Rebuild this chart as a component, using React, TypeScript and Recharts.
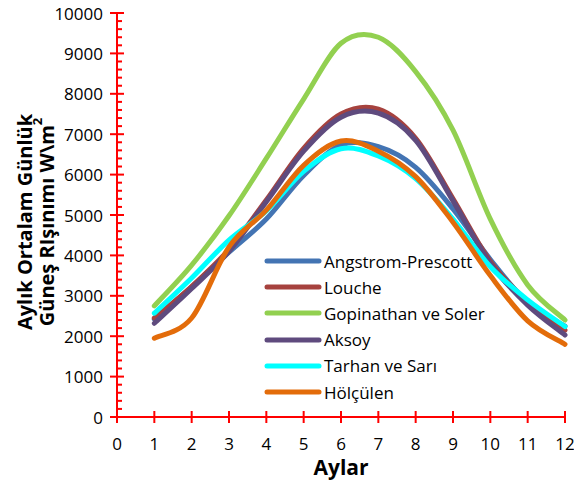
import React from 'react';
import { Legend, Line, LineChart, XAxis, YAxis } from 'recharts';

const MONTHS = [1, 2, 3, 4, 5, 6, 7, 8, 9, 10, 11, 12];
const X_TICKS = [0, 1, 2, 3, 4, 5, 6, 7, 8, 9, 10, 11, 12];
// minor ticks every 200 between the labelled ones
const Y_TICKS = Array.from({ length: 51 }, (_, i) => i * 200);

const ANGSTROM = [2420, 3220, 4080, 4900, 5980, 6730, 6690, 6180, 5150, 3900, 2830, 2250];
const LOUCHE = [2450, 3230, 4150, 5370, 6650, 7500, 7620, 6900, 5400, 3850, 2850, 2150];
const GOPINATHAN = [2750, 3760, 4980, 6400, 7870, 9250, 9400, 8550, 7100, 4900, 3270, 2400];
const AKSOY = [2320, 3180, 4100, 5330, 6580, 7420, 7520, 6850, 5350, 3800, 2770, 2030];
const TARHAN = [2570, 3440, 4380, 5100, 6080, 6640, 6460, 5900, 4900, 3720, 2900, 2240];
const HOLCULEN = [1950, 2450, 4210, 5120, 6230, 6830, 6580, 5950, 4820, 3500, 2380, 1800];

const SERIES = [
  { key: 'angstrom', name: 'Angstrom-Prescott', color: '#4374B3', values: ANGSTROM },
  { key: 'louche', name: 'Louche', color: '#A6423E', values: LOUCHE },
  { key: 'gopinathan', name: 'Gopinathan ve Soler', color: '#92D050', values: GOPINATHAN },
  { key: 'aksoy', name: 'Aksoy', color: '#5F4B7E', values: AKSOY },
  { key: 'tarhan', name: 'Tarhan ve Sarı', color: '#00FFFF', values: TARHAN },
  { key: 'holculen', name: 'Hölçülen', color: '#E36C0A', values: HOLCULEN },
];

const data = MONTHS.map((month, i) => {
  const row: Record<string, number> = { month };
  SERIES.forEach((s) => {
    row[s.key] = s.values[i];
  });
  return row;
});

const RED = '#FF0000';
const FONT = '"Open Sans", sans-serif';

// Excel-style smoothing: Catmull-Rom through the points
const smoothCurve = (context: any) => {
  let pts: [number, number][] = [];
  return {
    areaStart() {},
    areaEnd() {},
    lineStart() {
      pts = [];
    },
    point(x: number, y: number) {
      pts.push([+x, +y]);
    },
    lineEnd() {
      if (pts.length === 0) return;
      context.moveTo(pts[0][0], pts[0][1]);
      for (let i = 0; i < pts.length - 1; i++) {
        const p0 = pts[i - 1] ?? pts[i];
        const p1 = pts[i];
        const p2 = pts[i + 1];
        const p3 = pts[i + 2] ?? p2;
        context.bezierCurveTo(
          p1[0] + (p2[0] - p0[0]) / 6,
          p1[1] + (p2[1] - p0[1]) / 6,
          p2[0] - (p3[0] - p1[0]) / 6,
          p2[1] - (p3[1] - p1[1]) / 6,
          p2[0],
          p2[1],
        );
      }
    },
  };
};

const YTick = (props: any) => {
  const { x, y, payload } = props;
  const major = payload.value % 1000 === 0;
  return (
    <g>
      <line x1={major ? x - 7 : x} x2={major ? x + 7 : x + 5} y1={y} y2={y} stroke={RED} strokeWidth={2} />
      {major && (
        <text x={x - 14} y={y} textAnchor="end" dominantBaseline="central" fontSize={17} fontFamily={FONT} fill="#000">
          {payload.value}
        </text>
      )}
    </g>
  );
};

const XTick = (props: any) => {
  const { x, y, payload } = props;
  return (
    <g>
      <line x1={x} x2={x} y1={y - 6} y2={y + 6} stroke={RED} strokeWidth={2} />
      <text x={x} y={y + 26} textAnchor="middle" dominantBaseline="central" fontSize={17} fontFamily={FONT} fill="#000">
        {payload.value}
      </text>
    </g>
  );
};

const YTitle = () => (
  <g fontFamily={FONT} fontWeight="bold" fontSize={20} fill="#000">
    <text x={24} y={222} transform="rotate(-90 24 222)" textAnchor="middle" dominantBaseline="central">
      Aylık Ortalam Günlük
    </text>
    <text x={46} y={222} transform="rotate(-90 46 222)" textAnchor="middle" dominantBaseline="central">
      Güneş RIşınımı W\m
      <tspan baselineShift="super" fontSize={13}>2</tspan>
    </text>
  </g>
);

const LegendBox = () => (
  <div style={{ fontFamily: FONT, fontSize: 17, color: '#000' }}>
    {SERIES.map((s) => (
      <div key={s.key} style={{ display: 'flex', alignItems: 'center', height: 26.2 }}>
        <svg width={58} height={10} style={{ marginRight: 2 }}>
          <line x1={3} x2={55} y1={5} y2={5} stroke={s.color} strokeWidth={5} strokeLinecap="round" />
        </svg>
        <span>{s.name}</span>
      </div>
    ))}
  </div>
);

export default function App() {
  return (
    <div style={{ position: 'fixed', left: 0, top: 0, width: 574, height: 489, background: '#fff' }}>
      <LineChart width={574} height={489} data={data} margin={{ top: 13, right: 9, left: 57, bottom: 12 }}>
        <XAxis
          type="number"
          dataKey="month"
          domain={[0, 12]}
          ticks={X_TICKS}
          interval={0}
          tick={<XTick />}
          tickLine={false}
          tickSize={0}
          tickMargin={0}
          height={60}
          axisLine={{ stroke: RED, strokeWidth: 2 }}
          label={{
            content: () => (
              <text x={341} y={467} textAnchor="middle" dominantBaseline="central" fontFamily={FONT} fontWeight="bold" fontSize={21} fill="#000">
                Aylar
              </text>
            ),
          }}
        />
        <YAxis
          type="number"
          domain={[0, 10000]}
          ticks={Y_TICKS}
          interval={0}
          tick={<YTick />}
          tickLine={false}
          tickSize={0}
          tickMargin={0}
          width={60}
          axisLine={{ stroke: RED, strokeWidth: 2 }}
          label={{ content: () => <YTitle /> }}
        />
        <Legend
          layout="vertical"
          align="center"
          verticalAlign="middle"
          content={() => <LegendBox />}
          wrapperStyle={{ position: 'absolute', left: 264, top: 248, width: 280 }}
        />
        {SERIES.map((s) => (
          <Line
            key={s.key}
            dataKey={s.key}
            name={s.name}
            type={smoothCurve as any}
            stroke={s.color}
            strokeWidth={5}
            strokeLinecap="round"
            dot={false}
            activeDot={false}
            isAnimationActive={false}
          />
        ))}
      </LineChart>
    </div>
  );
}
